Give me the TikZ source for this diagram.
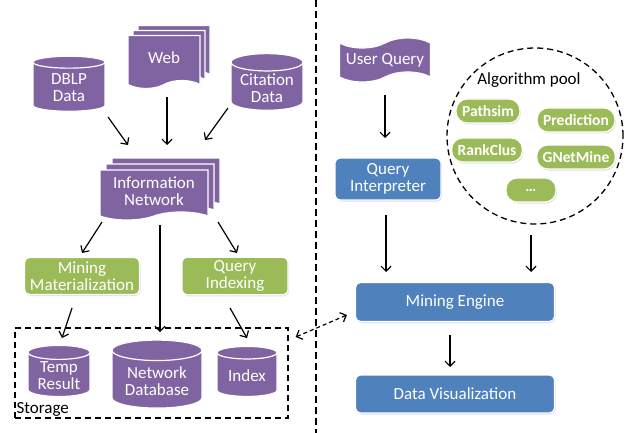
\documentclass[tikz,border=0pt]{standalone}
\usepackage{fontspec}
\setmainfont{Carlito}
\usetikzlibrary{arrows.meta,shapes.geometric,shapes.symbols,shadows}

\definecolor{docpurple}{RGB}{128,100,162}
\definecolor{boxgreen}{RGB}{155,187,89}
\definecolor{boxblue}{RGB}{79,129,189}

\begin{document}
\begin{tikzpicture}[x=1pt, y=-1pt, >={Straight Barb[length=5pt,width=10pt]},
  every node/.style={font=\fontsize{17}{17}\selectfont, text=white, align=center},
  data/.style={cylinder, shape border rotate=90, aspect=0.3, fill=docpurple,
    draw=white, line width=1.2pt, inner sep=2pt},
  doc/.style={tape, tape bend top=none, tape bend height=8pt, fill=docpurple,
    draw=white, line width=1.2pt, inner sep=2pt},
  pages/.style={doc, double copy shadow={shadow xshift=#1, shadow yshift=#1,
    fill=docpurple, draw=white, line width=1.2pt}},
  flag/.style={tape, tape bend height=10pt, fill=docpurple, draw=white,
    line width=1.2pt, inner sep=2pt},
  greenbox/.style={rectangle, rounded corners=5pt, fill=boxgreen, draw=white,
    line width=1.2pt, drop shadow={opacity=0.25, shadow xshift=1pt, shadow yshift=-1.5pt}},
  bluebox/.style={greenbox, fill=boxblue},
  algo/.style={greenbox, rounded corners=11pt, minimum height=24, minimum width=50,
    inner xsep=6pt, font=\fontsize{15.5}{15.5}\selectfont\bfseries},
  caption/.style={text=black, inner sep=2pt},
  dashbox/.style={draw=black, line width=1.3pt, dash pattern=on 6pt off 4pt},
  link/.style={->, line width=1.2pt}]

\useasboundingbox (0,0) rectangle (626,433);

% left half: sources
\node [data, minimum width=72, minimum height=55] (dblp) at (69,88) {DBLP\\Data};
\node [pages=5pt, minimum width=72, minimum height=53] (web) at (164,58) {Web};
\node [data, minimum width=72, minimum height=55] (cite) at (267,88) {Citation\\Data};
\node [pages=6pt, minimum width=108, minimum height=50] (infonet) at (154,191) {Information\\Network};

\node [greenbox, minimum width=115, minimum height=37] (mining) at (82,276) {Mining\\Materialization};
\node [greenbox, minimum width=106, minimum height=37] (indexing) at (235,276) {Query\\Indexing};

% storage
\node [dashbox, minimum width=273, minimum height=90] (storage) at (151.5,373) {};
\node [caption, anchor=south west] (storagelabel) at (storage.south west) {Storage};
\node [data, minimum width=62, minimum height=50] (temp) at (59,376) {Temp\\Result};
\node [data, minimum width=90, minimum height=68] (netdb) at (157,381) {Network\\Database};
\node [data, minimum width=60, minimum height=50] (index) at (247,376) {Index};

% right half
\node [flag, minimum width=91, minimum height=44] (query) at (385,60) {User Query};
\node [bluebox, minimum width=106, minimum height=42] (interp) at (388,179) {Query\\Interpreter};

\node [dashbox, circle, minimum size=176] (pool) at (535,136) {};
\node [caption] (pooltitle) at (529,80) {Algorithm pool};
\foreach \n/\l/\x/\y in {pathsim/Pathsim/488/111, prediction/Prediction/576/120,
    rankclus/RankClus/487/150, gnetmine/GNetMine/576/157, more/{\ldots}/531/190}
  \node [algo] (\n) at (\x,\y) {\l};

\node [bluebox, minimum width=199, minimum height=39] (engine) at (455,302) {Mining Engine};
\node [bluebox, minimum width=199, minimum height=38] (vis) at (455,394) {Data Visualization};

% divider
\draw [line width=2pt, dash pattern=on 7pt off 4pt] (316,0) -- (316,433);

% arrows
\foreach \a/\ax/\ay/\b/\bx/\by in {dblp/39/29/infonet/-26/-46, web/3/39/infonet/13/-46,
    cite/-39/20/infonet/51/-51, infonet/-52/31/mining/0/-23, infonet/6/34/netdb/3/-49,
    infonet/64/31/indexing/2/-23, mining/-10/32/temp/3/-38, indexing/-5/32/index/0/-38,
    query/0/35/interp/-3/-41, interp/-2/36/engine/-69/-30, pool/-4/99/engine/76/-30,
    engine/-5/33/vis/-5/-27}
  \draw [link] ([shift={(\ax,\ay)}]\a.center) -- ([shift={(\bx,\by)}]\b.center);

\draw [link, <->, dash pattern=on 4pt off 3pt] ([shift={(7,-36)}]storage.east)
  -- ([shift={(-8,13)}]engine.west);

\end{tikzpicture}
\end{document}
